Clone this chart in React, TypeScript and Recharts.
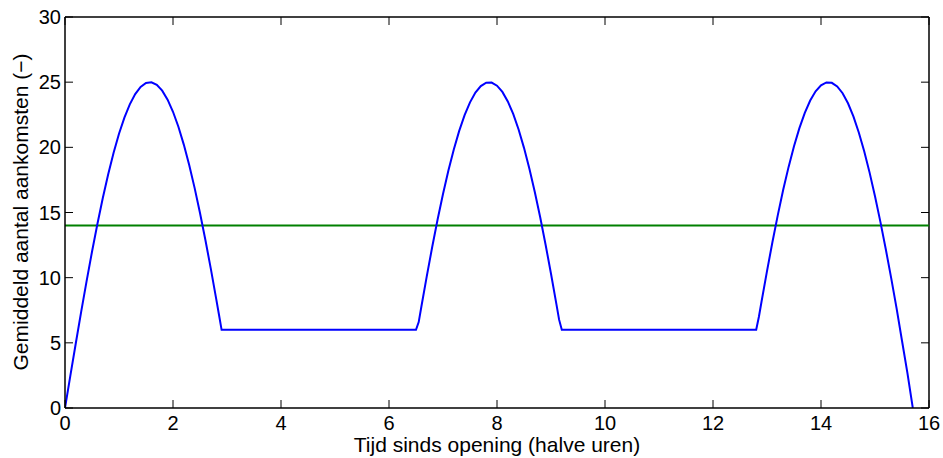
import React from 'react';
import { LineChart, Line, XAxis, YAxis, ReferenceLine } from 'recharts';

// Blue series: mean arrivals over time
const blueTimes = [
  0, 0.1, 0.2, 0.3, 0.4, 0.5, 0.6, 0.7, 0.8, 0.9,
  1.0, 1.1, 1.2, 1.3, 1.4, 1.5, 1.6, 1.7, 1.8, 1.9,
  2.0, 2.1, 2.2, 2.3, 2.4, 2.5, 2.6, 2.7, 2.8, 2.85, 2.9,
  6.5, 6.55, 6.6,
  6.7, 6.8, 6.9, 7.0, 7.1, 7.2, 7.3, 7.4, 7.5, 7.6,
  7.7, 7.8, 7.9, 8.0, 8.1, 8.2, 8.3, 8.4, 8.5, 8.6,
  8.7, 8.8, 8.9, 9.0, 9.1, 9.15, 9.2,
  12.8, 12.85, 12.9,
  13.0, 13.1, 13.2, 13.3, 13.4, 13.5, 13.6, 13.7, 13.8, 13.9,
  14.0, 14.1, 14.2, 14.3, 14.4, 14.5, 14.6, 14.7, 14.8, 14.9,
  15.0, 15.1, 15.2, 15.3, 15.4, 15.5, 15.6, 15.7,
];
const blueValues = [
  0, 2.5, 4.97, 7.39, 9.74, 11.99, 14.12, 16.11, 17.93, 19.58,
  21.04, 22.28, 23.3, 24.09, 24.64, 24.94, 24.99, 24.79, 24.35, 23.66,
  22.73, 21.58, 20.21, 18.64, 16.89, 14.96, 12.89, 10.69, 8.37, 7.19, 6,
  6, 6.59, 7.79,
  10.12, 12.35, 14.46, 16.42, 18.23, 19.84, 21.26, 22.47, 23.45, 24.2,
  24.7, 24.96, 24.97, 24.73, 24.25, 23.52, 22.56, 21.37, 19.96, 18.36,
  16.58, 14.63, 12.53, 10.3, 7.97, 6.78, 6,
  6, 7.0, 8.19,
  10.5, 12.72, 14.8, 16.74, 18.5, 20.09, 21.47, 22.65, 23.59, 24.3,
  24.76, 24.98, 24.95, 24.67, 24.15, 23.38, 22.37, 21.14, 19.7, 18.06,
  16.25, 14.28, 12.18, 9.96, 7.64, 5.16, 2.69, 0,
];

// Green series: constant average
const greenTimes = [0, 16];
const greenValues = [14, 14];

const xTicks = [0, 2, 4, 6, 8, 10, 12, 14, 16];
const yTicks = [0, 5, 10, 15, 20, 25, 30];

const xLabel = 'Tijd sinds opening (halve uren)';
const yLabel = 'Gemiddeld aantal aankomsten (\u2212)';

const blueData = blueTimes.map((t, i) => ({ t, v: blueValues[i] }));
const greenData = greenTimes.map((t, i) => ({ t, v: greenValues[i] }));

const W = 943;
const H = 458;
const PLOT_TOP = 17;
const PLOT_RIGHT = 929;
const FONT = '"Liberation Sans", Arial, Helvetica, sans-serif';
const AX = '#000';

function XTick(props: any) {
  const { x, y, payload } = props;
  return (
    <g>
      <line x1={x} y1={y} x2={x} y2={y - 8} stroke={AX} strokeWidth={1} />
      <line x1={x} y1={PLOT_TOP} x2={x} y2={PLOT_TOP + 8} stroke={AX} strokeWidth={1} />
      <text x={x} y={y + 22} textAnchor="middle" fontSize={20} fontFamily={FONT} fill="#000">
        {payload.value}
      </text>
    </g>
  );
}

function YTick(props: any) {
  const { x, y, payload } = props;
  return (
    <g>
      <line x1={x} y1={y} x2={x + 8} y2={y} stroke={AX} strokeWidth={1} />
      <line x1={PLOT_RIGHT} y1={y} x2={PLOT_RIGHT - 8} y2={y} stroke={AX} strokeWidth={1} />
      <text x={x - 4} y={y + 7} textAnchor="end" fontSize={20} fontFamily={FONT} fill="#000">
        {payload.value}
      </text>
    </g>
  );
}

export default function App() {
  return (
    <div style={{ position: 'absolute', left: 0, top: 0, width: W, height: H, background: '#fff' }}>
      <LineChart
        width={W}
        height={H}
        margin={{ top: 17, right: 14, left: 0, bottom: 0 }}
      >
        <XAxis
          dataKey="t"
          type="number"
          domain={[0, 16]}
          ticks={xTicks}
          allowDataOverflow
          height={50}
          tickSize={0}
          tickMargin={0}
          tickLine={false}
          axisLine={{ stroke: AX, strokeWidth: 1.5 }}
          tick={<XTick />}
          interval={0}
          label={{
            content: () => (
              <text x={497} y={452} textAnchor="middle" fontSize={21} fontFamily={FONT} fill="#000">
                {xLabel}
              </text>
            ),
          }}
        />
        <YAxis
          type="number"
          domain={[0, 30]}
          ticks={yTicks}
          allowDataOverflow
          width={65}
          tickSize={0}
          tickMargin={0}
          tickLine={false}
          axisLine={{ stroke: AX, strokeWidth: 1.5 }}
          tick={<YTick />}
          interval={0}
          label={{
            content: () => (
              <text
                x={28}
                y={212}
                textAnchor="middle"
                fontSize={21}
                fontFamily={FONT}
                fill="#000"
                transform="rotate(-90 28 212)"
              >
                {yLabel}
              </text>
            ),
          }}
        />
        <ReferenceLine y={30} stroke={AX} strokeWidth={1.5} />
        <ReferenceLine x={16} stroke={AX} strokeWidth={1.5} />
        <Line
          data={greenData}
          dataKey="v"
          stroke="#008000"
          strokeWidth={2}
          dot={false}
          isAnimationActive={false}
        />
        <Line
          data={blueData}
          dataKey="v"
          stroke="#0000ff"
          strokeWidth={2}
          dot={false}
          isAnimationActive={false}
        />
      </LineChart>
    </div>
  );
}
